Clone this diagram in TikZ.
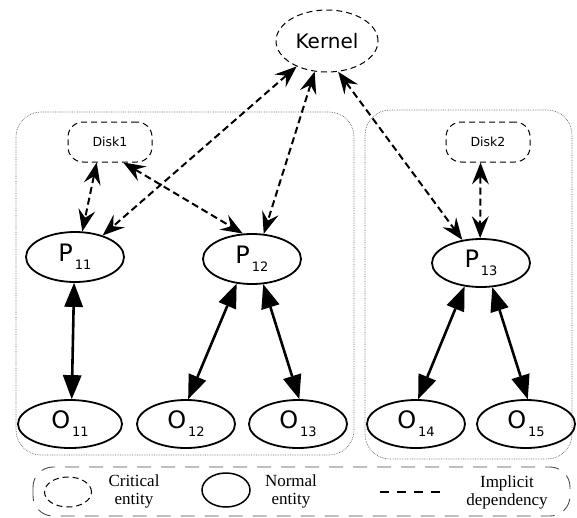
\documentclass[tikz,border=0pt]{standalone}
\usepackage{fontspec}
\setmainfont{Liberation Serif}
\newfontfamily\labfont{DejaVu Sans}
\usetikzlibrary{shapes.geometric,arrows.meta}
\newcommand{\entlab}[2]{{\labfont\fontsize{24}{24}\selectfont #1}\hspace{2pt}\raisebox{-8pt}{\labfont\fontsize{13}{13}\selectfont #2}}
\tikzset{
  normal/.style={ellipse, draw, line width=1.8pt, minimum width=98pt, minimum height=48pt, inner sep=0pt},
  critell/.style={ellipse, draw, dashed, line width=1pt, dash pattern=on 6pt off 4pt},
  diskbox/.style={rectangle, draw, line width=1pt, dash pattern=on 6pt off 4pt, rounded corners=15pt, minimum width=84pt, minimum height=40pt, inner sep=0pt, font=\labfont\fontsize{12.5}{12.5}\selectfont},
  dtip/.tip={Stealth[length=22pt,width=17pt,inset=8pt,line width=0pt]},
  stip/.tip={Triangle[length=24pt,width=19pt,line width=0pt]},
  dep/.style={line width=2pt, dash pattern=on 7pt off 4pt, dtip-dtip},
  strong/.style={line width=2.6pt, stip-stip},
  container/.style={draw=black!60, densely dotted, line width=0.7pt, rounded corners=25pt},
  legtext/.style={align=center, font=\fontsize{17}{18}\selectfont, inner sep=0pt},
}
\begin{document}
\begin{tikzpicture}[x=1pt,y=-1pt]
\useasboundingbox (0,0) rectangle (577,517);
% containers
\draw[container] (16,112) rectangle (354,455);
\draw[container] (365,110) rectangle (572,459);
% kernel and disks
\node[critell, minimum width=102pt, minimum height=62pt, inner sep=0pt] (K) at (327,41) {\labfont\fontsize{20}{20}\selectfont Kernel};
\node[diskbox] (D1) at (110,142) {Disk1};
\node[diskbox] (D2) at (488,142) {Disk2};
% processes
\node[normal, minimum height=50pt] (P11) at (75,257) {\entlab{P}{11}};
\node[normal, minimum height=50pt] (P12) at (252,259) {\entlab{P}{12}};
\node[normal, minimum height=48pt] (P13) at (481,263) {\entlab{P}{13}};
% objects
\node[normal, minimum width=104pt] (O11) at (70,424) {\entlab{O}{11}};
\node[normal] (O12) at (186,424) {\entlab{O}{12}};
\node[normal] (O13) at (298,424) {\entlab{O}{13}};
\node[normal] (O14) at (416,424) {\entlab{O}{14}};
\node[normal] (O15) at (526,424) {\entlab{O}{15}};
% implicit dependencies
\draw[dep] (K.220) -- (P11.38);
\draw[dep] (K.248) -- (P12.65);
\draw[dep] (K.290) -- (P13.129);
\draw[dep] (D1.237) -- (P11.74);
\draw[dep] (D1.303) -- (P12.110);
\draw[dep] (D2.250) -- (P13.92);
% explicit dependencies
\draw[strong] (P11.268) -- (O11.86);
\draw[strong] (P12.238) -- (O12.85);
\draw[strong] (P12.294) -- (O13.87);
\draw[strong] (P13.235) -- (O14.85);
\draw[strong] (P13.295) -- (O15.86);
% legend
\draw[draw=black!70, line width=0.9pt, dash pattern=on 14pt off 10pt, rounded corners=20pt] (33,467) rectangle (570,516);
\node[critell, minimum width=47pt, minimum height=30pt, inner sep=0pt] (LC) at (68,492) {};
\node[legtext] (LCT) at (134,491) {Critical\\entity};
\node[ellipse, draw, line width=1.5pt, minimum width=48pt, minimum height=34pt, inner sep=0pt] (LN) at (226,490) {};
\node[legtext] (LNT) at (291,491) {Normal\\entity};
\coordinate (LDa) at (380,492);
\coordinate (LDb) at (441,492);
\draw[line width=1.6pt, dash pattern=on 9pt off 8pt] (LDa) -- (LDb);
\node[legtext] (LDT) at (507,492) {Implicit\\dependency};
\end{tikzpicture}
\end{document}
